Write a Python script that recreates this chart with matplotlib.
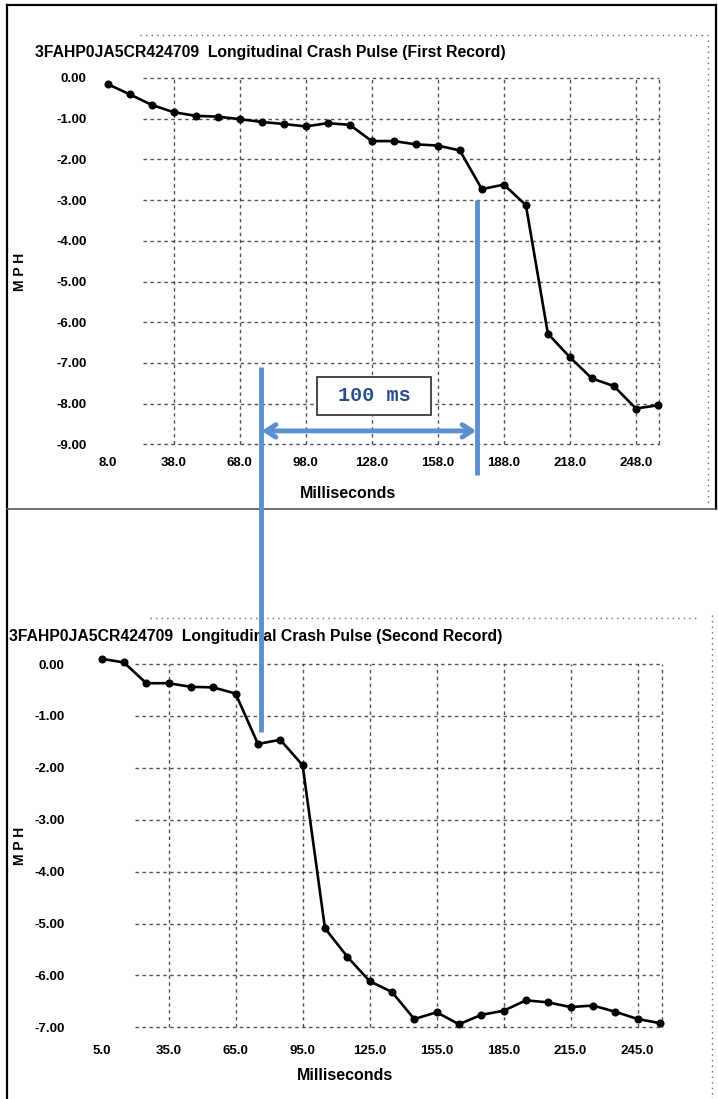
import matplotlib
matplotlib.use("Agg")
import matplotlib.pyplot as plt
from matplotlib.lines import Line2D
from matplotlib.patches import Rectangle

# ---------------- data ----------------
ms_first = [8, 18, 28, 38, 48, 58, 68, 78, 88, 98, 108, 118, 128, 138, 148, 158,
            168, 178, 188, 198, 208, 218, 228, 238, 248, 258]
mph_first = [-0.15, -0.40, -0.66, -0.84, -0.93, -0.95, -1.01, -1.08, -1.13, -1.19,
             -1.11, -1.15, -1.55, -1.55, -1.63, -1.66, -1.78, -2.73, -2.62, -3.12,
             -6.28, -6.86, -7.38, -7.57, -8.12, -8.04]
xticks_first = [8.0, 38.0, 68.0, 98.0, 128.0, 158.0, 188.0, 218.0, 248.0]
yticks_first = [0, -1, -2, -3, -4, -5, -6, -7, -8, -9]

ms_second = [5, 15, 25, 35, 45, 55, 65, 75, 85, 95, 105, 115, 125, 135, 145, 155,
             165, 175, 185, 195, 205, 215, 225, 235, 245, 255]
mph_second = [0.10, 0.03, -0.37, -0.37, -0.44, -0.45, -0.57, -1.54, -1.46, -1.95,
              -5.09, -5.64, -6.11, -6.32, -6.84, -6.71, -6.94, -6.76, -6.68, -6.48,
              -6.52, -6.61, -6.58, -6.70, -6.84, -6.92]
xticks_second = [5.0, 35.0, 65.0, 95.0, 125.0, 155.0, 185.0, 215.0, 245.0]
yticks_second = [0, -1, -2, -3, -4, -5, -6, -7]

title_first = "3FAHP0JA5CR424709  Longitudinal Crash Pulse (First Record)"
title_second = "3FAHP0JA5CR424709  Longitudinal Crash Pulse (Second Record)"
xlabel = "Milliseconds"
ylabel = "M P H"
box_text = "100 ms"

# annotation positions (ms on first-record time axis)
mark_start = 77.5
mark_end = 176.0

# ---------------- figure ----------------
W, H = 718, 1099
fig = plt.figure(figsize=(W / 100, H / 100), dpi=100)
fig.patch.set_facecolor("white")

def fx(px):
    return px / W

def fy(py):
    return 1 - py / H

FONT = "Liberation Sans"
BLUE = "#5B8FCE"
TXTBLUE = "#2B4C8C"
GRIDC = "#1a1a1a"
DASH = (0, (2.5, 2.5))

# Top axes
ax1 = fig.add_axes([fx(100), fy(448), fx(565), 374 / H])
ax1.set_xlim(4.56, 261.2)
ax1.set_ylim(-9.09, 0.098)
# Bottom axes
ax2 = fig.add_axes([fx(95), fy(1032), fx(573), 382 / H])
ax2.set_xlim(2.04, 258.6)
ax2.set_ylim(-7.09, 0.27)

def style(ax, xt, yt, ypad, xpad, hx0, vstart):
    for s in ax.spines.values():
        s.set_visible(False)
    ax.set_xticks(xt)
    ax.set_yticks(yt)
    ax.set_xticklabels([f"{v:.1f}" for v in xt], fontfamily=FONT,
                       fontweight="bold", fontsize=9.5)
    ax.set_yticklabels([f"{v:.2f}" for v in yt], fontfamily=FONT,
                       fontweight="bold", fontsize=9.5)
    ax.tick_params(length=0)
    ax.tick_params(axis="y", pad=ypad)
    ax.tick_params(axis="x", pad=xpad)
    # scanned-looking dashed grid
    xmax = ax.get_xlim()[1] - 2.5
    for y in yt:
        ax.hlines(y, hx0, xmax, colors=GRIDC, linestyles=DASH, lw=1.0,
                  alpha=0.75, zorder=1)
    for x in list(xt[vstart:]) + [xmax]:
        ax.vlines(x, yt[-1], yt[0], colors=GRIDC, linestyles=DASH, lw=1.0,
                  alpha=0.75, zorder=1)

style(ax1, xticks_first, yticks_first, ypad=9.5, xpad=6.5, hx0=24, vstart=1)
style(ax2, xticks_second, yticks_second, ypad=22, xpad=9, hx0=20, vstart=1)

ax1.plot(ms_first, mph_first, color="black", lw=1.9, marker="o", ms=4.8,
         zorder=5)
ax2.plot(ms_second, mph_second, color="black", lw=1.9, marker="o", ms=4.8,
         zorder=5)

# titles and labels
fig.text(fx(35), fy(52), title_first, fontfamily=FONT, fontweight="bold",
         fontsize=11.3, va="center", ha="left")
fig.text(fx(9), fy(636), title_second, fontfamily=FONT, fontweight="bold",
         fontsize=11.3, va="center", ha="left")
fig.text(fx(348), fy(493), xlabel, fontfamily=FONT, fontweight="bold",
         fontsize=11.5, ha="center", va="center")
fig.text(fx(345), fy(1076), xlabel, fontfamily=FONT, fontweight="bold",
         fontsize=11.5, ha="center", va="center")
fig.text(fx(20), fy(272), ylabel, fontfamily=FONT, fontweight="bold",
         fontsize=10, ha="center", va="center", rotation=90)
fig.text(fx(20), fy(846), ylabel, fontfamily=FONT, fontweight="bold",
         fontsize=10, ha="center", va="center", rotation=90)

# panel borders
border = dict(color="black", lw=1.6, transform=fig.transFigure)
fig.add_artist(Line2D([fx(7), fx(716)], [fy(5), fy(5)], **border))
fig.add_artist(Line2D([fx(7), fx(7)], [fy(5), fy(1099)], **border))
fig.add_artist(Line2D([fx(716), fx(716)], [fy(5), fy(509)], **border))
fig.add_artist(Line2D([fx(7), fx(716)], [fy(509), fy(509)], color="#555555",
                      lw=1.2, transform=fig.transFigure))

# scan artefacts (dotted)
dot = dict(color="#444444", lw=1.0, linestyle=(0, (1, 3)), alpha=0.8,
           transform=fig.transFigure)
fig.add_artist(Line2D([fx(140), fx(710)], [fy(35), fy(35)], **dot))
fig.add_artist(Line2D([fx(708), fx(708)], [fy(40), fy(505)], **dot))
fig.add_artist(Line2D([fx(150), fx(700)], [fy(618), fy(618)], **dot))
fig.add_artist(Line2D([fx(712), fx(712)], [fy(615), fy(1099)], **dot))

# ---------------- blue annotations ----------------
fig.canvas.draw()
inv = fig.transFigure.inverted()
xs_pix = ax1.transData.transform((mark_start, -7.1))
ye_pix = ax2.transData.transform((0, -1.31))
p0 = inv.transform(xs_pix)
p1 = inv.transform((xs_pix[0], ye_pix[1]))
fig.add_artist(Line2D([p0[0], p1[0]], [p0[1], p1[1]], color=BLUE, lw=3.5,
                      transform=fig.transFigure, zorder=10, solid_capstyle="butt"))

ax1.plot([mark_end, mark_end], [-3.0, -9.75], color=BLUE, lw=3.5,
         clip_on=False, zorder=10, solid_capstyle="butt")
ax1.annotate("", xy=(mark_end - 0.5, -8.67), xytext=(mark_start + 0.5, -8.67),
             arrowprops=dict(arrowstyle="<->,head_length=0.7,head_width=0.45",
                             color=BLUE, lw=3.5, shrinkA=0, shrinkB=0),
             zorder=10, annotation_clip=False)

bx_c, by_c = 129.2, -7.81
bw, bh = 51.7, 0.93
ax1.add_patch(Rectangle((bx_c - bw / 2, by_c - bh / 2), bw, bh,
                        facecolor="white", edgecolor="#3a3a3a", lw=1.3,
                        zorder=8))
ax1.text(bx_c, by_c, box_text, fontfamily="Liberation Mono", fontweight="bold",
         fontsize=14.5, color=TXTBLUE, ha="center", va="center", zorder=9)

fig.savefig("out.png", dpi=100, facecolor="white")
